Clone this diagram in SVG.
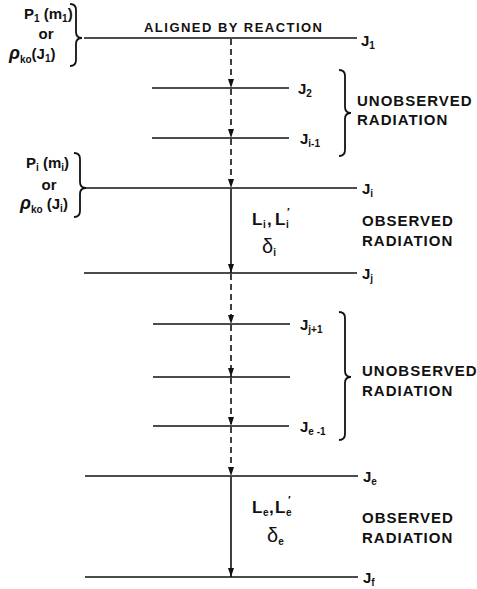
<svg xmlns="http://www.w3.org/2000/svg" width="477" height="589" viewBox="0 0 477 589">
<style>
.lvl{stroke:#111;stroke-width:1.6;fill:none}
.brace{stroke:#111;stroke-width:1.8;fill:none}
.t{font-family:"Liberation Sans",Arial,sans-serif;font-weight:bold;fill:#111}
.cap{font-size:15px;letter-spacing:1px}
.j{font-size:15px}
.sub{font-size:10px}
.lab{font-size:15px}
.big{font-size:17px}
.del{font-size:20px;font-weight:normal}
.pr{font-size:11px}
.dash{stroke:#111;stroke-width:1.6;fill:none;stroke-dasharray:6 4}
.solid{stroke:#111;stroke-width:1.6;fill:none}
</style>
<defs>
<marker id="a" markerUnits="userSpaceOnUse" markerWidth="6" markerHeight="9" viewBox="0 0 6 9" refX="3" refY="9" orient="0">
<path d="M0 0 L6 0 L3 9 Z" fill="#111"/>
</marker>
</defs>
<rect width="477" height="589" fill="#fff"/>

<g id="connectors">
<path class="dash" d="M231 39 V88" marker-end="url(#a)"/>
<path class="dash" d="M231 89 V138" marker-end="url(#a)"/>
<path class="dash" d="M231 139 V188" marker-end="url(#a)"/>
<path class="solid" d="M231 189 V273" marker-end="url(#a)"/>
<path class="dash" d="M231 274 V324" marker-end="url(#a)"/>
<path class="dash" d="M231 325 V377" marker-end="url(#a)"/>
<path class="dash" d="M231 378 V426" marker-end="url(#a)"/>
<path class="dash" d="M231 427 V476" marker-end="url(#a)"/>
<path class="solid" d="M231 477 V577" marker-end="url(#a)"/>
</g>

<g id="level-J1">
<line class="lvl" x1="84" y1="38" x2="357" y2="38"/>
<text class="t j" x="361" y="46">J<tspan class="sub" dy="3">1</tspan></text>
<text class="t" x="144" y="32" style="font-size:13px" textLength="178" lengthAdjust="spacing">ALIGNED BY REACTION</text>
</g>
<g id="level-J2">
<line class="lvl" x1="152" y1="88" x2="289" y2="88"/>
<text class="t j" x="298" y="94">J<tspan class="sub" dy="3">2</tspan></text>
</g>
<g id="level-Ji-1">
<line class="lvl" x1="152" y1="138" x2="289" y2="138"/>
<text class="t j" x="300" y="144">J<tspan class="sub" dy="3">i-1</tspan></text>
</g>
<g id="level-Ji">
<line class="lvl" x1="84" y1="188" x2="357" y2="188"/>
<text class="t j" x="362" y="194">J<tspan class="sub" dy="3">i</tspan></text>
</g>
<g id="level-Jj">
<line class="lvl" x1="84" y1="273" x2="357" y2="273"/>
<text class="t j" x="362" y="279">J<tspan class="sub" dy="3">j</tspan></text>
</g>
<g id="level-Jj+1">
<line class="lvl" x1="153" y1="324" x2="290" y2="324"/>
<text class="t j" x="300" y="330">J<tspan class="sub" dy="3">j+1</tspan></text>
</g>
<g id="level-mid">
<line class="lvl" x1="153" y1="377" x2="290" y2="377"/>
</g>
<g id="level-Je-1">
<line class="lvl" x1="153" y1="426" x2="289" y2="426"/>
<text class="t j" x="300" y="432">J<tspan class="sub" dy="3">e -1</tspan></text>
</g>
<g id="level-Je">
<line class="lvl" x1="85" y1="476" x2="358" y2="476"/>
<text class="t j" x="363" y="482">J<tspan class="sub" dy="3">e</tspan></text>
</g>
<g id="level-Jf">
<line class="lvl" x1="85" y1="577" x2="358" y2="577"/>
<text class="t j" x="363" y="583">J<tspan class="sub" dy="3">f</tspan></text>
</g>

<g id="init-top">
<path class="brace" d="M70 4 Q76 4 76 10 L76 32 Q76 38 82 38 Q76 38 76 44 L76 60 Q76 66 70 66"/>
<text class="t lab" x="24" y="19">P<tspan class="sub" dy="3">1</tspan><tspan dy="-3"> (m</tspan><tspan class="sub" dy="3">1</tspan><tspan dy="-3">)</tspan></text>
<text class="t lab" x="46" y="39" text-anchor="middle">or</text>
<text class="t lab" x="9" y="59"><tspan style="font-style:italic;font-size:18px">ρ</tspan><tspan class="sub" dy="4">ko</tspan><tspan dy="-4">(J</tspan><tspan class="sub" dy="3">1</tspan><tspan dy="-3">)</tspan></text>
</g>

<g id="init-mid">
<path class="brace" d="M74 153 Q80 153 80 159 L80 182 Q80 188 86 188 Q80 188 80 194 L80 211 Q80 217 74 217"/>
<text class="t lab" x="26" y="168">P<tspan class="sub" dy="3">i</tspan><tspan dy="-3"> (m</tspan><tspan class="sub" dy="3">i</tspan><tspan dy="-3">)</tspan></text>
<text class="t lab" x="49" y="190" text-anchor="middle">or</text>
<text class="t lab" x="20" y="209"><tspan style="font-style:italic;font-size:18px">ρ</tspan><tspan class="sub" dy="4">ko</tspan><tspan dy="-4"> (J</tspan><tspan class="sub" dy="3">i</tspan><tspan dy="-3">)</tspan></text>
</g>

<g id="unobserved-1">
<path class="brace" d="M339 70 Q345 70 345 76 L345 107 Q345 113 351 113 Q345 113 345 119 L345 150 Q345 156 339 156"/>
<text class="t cap" x="357" y="106">UNOBSERVED</text>
<text class="t cap" x="357" y="125">RADIATION</text>
</g>

<g id="observed-1">
<text class="t big" x="252" y="225">L<tspan class="sub" x="263" y="228">i</tspan><tspan x="267" y="225">,</tspan><tspan x="275" y="225">L</tspan><tspan class="sub" x="286" y="228">i</tspan><tspan class="pr" x="287" y="216">′</tspan></text>
<text class="t del" x="262" y="253">δ<tspan class="sub" dy="3" style="font-weight:bold">i</tspan></text>
<text class="t cap" x="362" y="226">OBSERVED</text>
<text class="t cap" x="362" y="246">RADIATION</text>
</g>

<g id="unobserved-2">
<path class="brace" d="M339 312 Q345 312 345 318 L345 371 Q345 377 351 377 Q345 377 345 383 L345 434 Q345 440 339 440"/>
<text class="t cap" x="362" y="376">UNOBSERVED</text>
<text class="t cap" x="362" y="396">RADIATION</text>
</g>

<g id="observed-2">
<text class="t big" x="252" y="513">L<tspan class="sub" x="263" y="516">e</tspan><tspan x="269" y="513">,</tspan><tspan x="275" y="513">L</tspan><tspan class="sub" x="286" y="516">e</tspan><tspan class="pr" x="288" y="504">′</tspan></text>
<text class="t del" x="267" y="542">δ<tspan class="sub" dy="3" style="font-weight:bold">e</tspan></text>
<text class="t cap" x="362" y="523">OBSERVED</text>
<text class="t cap" x="362" y="543">RADIATION</text>
</g>
</svg>
